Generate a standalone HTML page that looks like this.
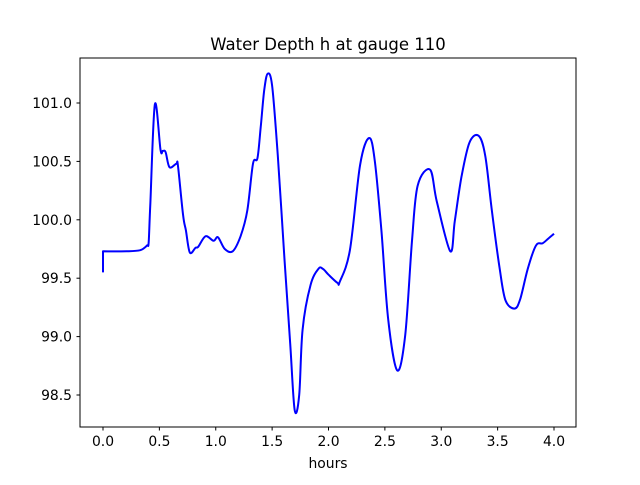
<!DOCTYPE html>
<html><head><meta charset="utf-8"><style>
body{margin:0;background:#fff;}
svg text{font-family:"DejaVu Sans","Liberation Sans",sans-serif;fill:#000;}
</style></head><body>
<svg id="chart" width="640" height="480" viewBox="0 0 640 480" xmlns="http://www.w3.org/2000/svg">
<rect width="640" height="480" fill="#fff"/>
<text x="328" y="50" font-size="16.5" text-anchor="middle">Water Depth h at gauge 110</text>
<path id="series" fill="none" stroke="#0000ff" stroke-width="2" stroke-linejoin="round"/>
<rect x="80" y="58" width="496" height="369" fill="none" stroke="#000" stroke-width="1"/>
<g id="axes"></g>
<text x="328" y="468" font-size="13.9" text-anchor="middle">hours</text>
</svg>
<script>
const hours=[0,0,0.21,0.33,0.39,0.405,0.42,0.46,0.51,0.53,0.555,0.59,0.65,0.665,0.71,0.735,0.77,0.82,0.845,0.91,0.98,1.02,1.08,1.15,1.22,1.28,1.33,1.37,1.40,1.43,1.46,1.50,1.55,1.61,1.66,1.70,1.74,1.77,1.84,1.91,1.95,2.0,2.08,2.10,2.19,2.28,2.36,2.41,2.47,2.53,2.61,2.68,2.74,2.79,2.90,2.96,3.08,3.12,3.18,3.25,3.33,3.39,3.45,3.52,3.57,3.65,3.70,3.77,3.84,3.90,3.95,4.0];
const depth=[99.55,99.73,99.73,99.74,99.78,99.81,100.15,100.99,100.6,100.59,100.58,100.45,100.48,100.46,100.04,99.91,99.72,99.76,99.77,99.86,99.82,99.85,99.75,99.73,99.86,100.08,100.48,100.53,100.81,101.11,101.25,101.15,100.55,99.66,98.94,98.37,98.5,99.06,99.44,99.58,99.58,99.53,99.46,99.47,99.74,100.47,100.70,100.51,99.90,99.14,98.71,99.01,99.81,100.29,100.43,100.16,99.73,99.99,100.37,100.66,100.72,100.55,100.07,99.57,99.31,99.24,99.32,99.59,99.78,99.80,99.84,99.88];
const xTicks=[0,0.5,1,1.5,2,2.5,3,3.5,4];
const yTicks=[98.5,99.0,99.5,100.0,100.5,101.0];
const X=v=>103+v*112.75;
const Y=v=>103+(101-v)*116.8;
const NS="http://www.w3.org/2000/svg";
const P=hours.map((h,i)=>[X(h),Y(depth[i])]);
let d="M"+P[0][0].toFixed(1)+","+P[0][1].toFixed(1)+"L"+P[1][0].toFixed(1)+","+P[1][1].toFixed(1);
for(let i=1;i<P.length-1;i++){
 const p0=P[i-1===0?1:i-1],p1=P[i],p2=P[i+1],p3=P[Math.min(i+2,P.length-1)];
 const c1=[p1[0]+(p2[0]-p0[0])/6,p1[1]+(p2[1]-p0[1])/6];
 const c2=[p2[0]-(p3[0]-p1[0])/6,p2[1]-(p3[1]-p1[1])/6];
 d+="C"+c1[0].toFixed(1)+","+c1[1].toFixed(1)+" "+c2[0].toFixed(1)+","+c2[1].toFixed(1)+" "+p2[0].toFixed(1)+","+p2[1].toFixed(1);
}
document.getElementById("series").setAttribute("d",d);
const axes=document.getElementById("axes");
xTicks.forEach(t=>{
 const l=document.createElementNS(NS,"line");
 
 
 l.setAttribute("x1",X(t));l.setAttribute("x2",X(t));l.setAttribute("y1",427);l.setAttribute("y2",430.5);l.setAttribute("stroke","#000");
 axes.appendChild(l);
 const tx=document.createElementNS(NS,"text");
 
 
 tx.setAttribute("x",X(t));tx.setAttribute("y",446);tx.setAttribute("font-size","13.9");tx.setAttribute("text-anchor","middle");
 tx.textContent=t.toFixed(1);axes.appendChild(tx);
});
yTicks.forEach(t=>{
 const l=document.createElementNS(NS,"line");
 
 
 l.setAttribute("x1",76.5);l.setAttribute("x2",80);l.setAttribute("y1",Y(t));l.setAttribute("y2",Y(t));l.setAttribute("stroke","#000");
 axes.appendChild(l);
 const tx=document.createElementNS(NS,"text");
 
 
 tx.setAttribute("x",72);tx.setAttribute("y",Y(t)+5);tx.setAttribute("font-size","13.9");tx.setAttribute("text-anchor","end");
 tx.textContent=t.toFixed(1);axes.appendChild(tx);
});
</script>
</body></html>
